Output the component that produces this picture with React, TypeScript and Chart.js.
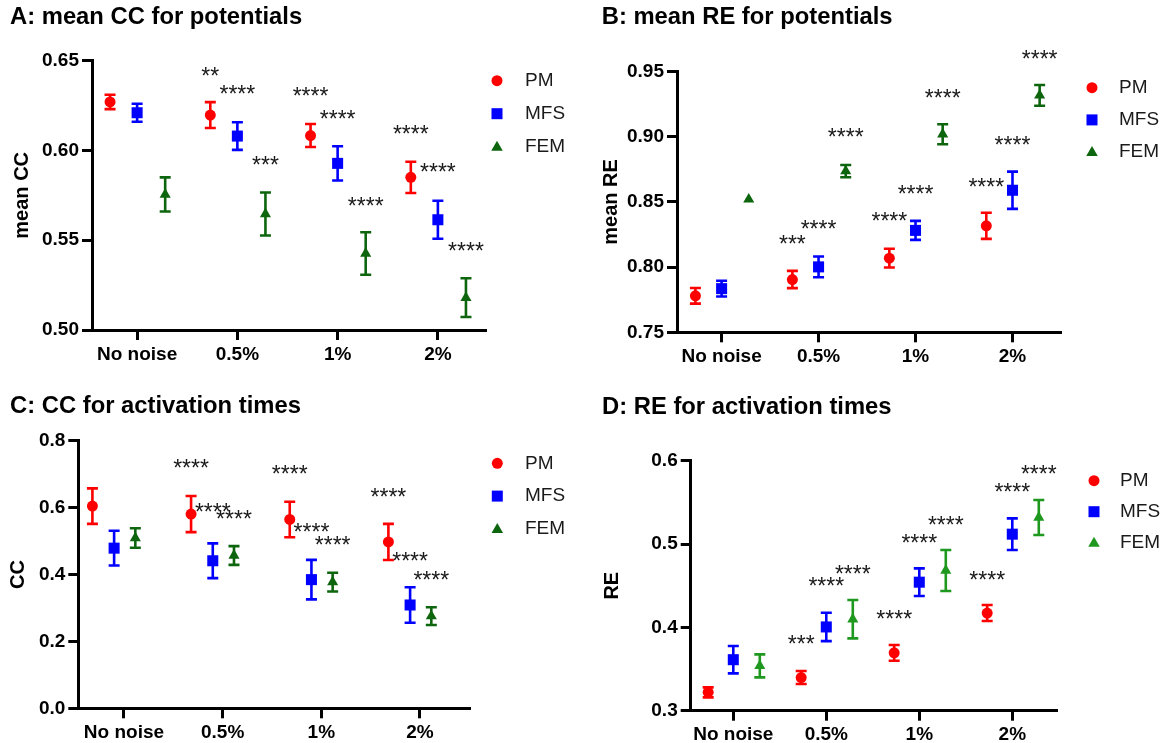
import React, { useEffect, useRef } from 'react';
import { Chart, registerables } from 'chart.js';

Chart.register(...registerables);

// ---------- data ----------
const CATEGORIES = ['No noise', '0.5%', '1%', '2%'];
const SERIES = ['PM', 'MFS', 'FEM'];
const X_TICKS = [0, 1, 2, 3];

// A: mean CC for potentials
const A_PM = [0.627, 0.6197, 0.6083, 0.585];
const A_PM_ERR = [0.004, 0.0072, 0.0064, 0.0087];
const A_MFS = [0.621, 0.608, 0.5928, 0.5614];
const A_MFS_ERR = [0.005, 0.0077, 0.0095, 0.0106];
const A_FEM = [0.5755, 0.5646, 0.5426, 0.518];
const A_FEM_ERR = [0.0095, 0.012, 0.0118, 0.0108];
const A_Y_TICKS = [0.5, 0.55, 0.6, 0.65];

// B: mean RE for potentials
const B_PM = [0.778, 0.7905, 0.8069, 0.8317];
const B_PM_ERR = [0.006, 0.0066, 0.0072, 0.01];
const B_MFS = [0.7835, 0.8002, 0.8282, 0.859];
const B_MFS_ERR = [0.006, 0.008, 0.0073, 0.0143];
const B_FEM = [0.852, 0.8737, 0.902, 0.9318];
const B_FEM_ERR = [0, 0.0047, 0.0077, 0.008];
const B_Y_TICKS = [0.75, 0.8, 0.85, 0.9, 0.95];

// C: CC for activation times
const C_PM = [0.6044, 0.5805, 0.5645, 0.4972];
const C_PM_ERR = [0.053, 0.054, 0.053, 0.054];
const C_MFS = [0.4787, 0.441, 0.3846, 0.3088];
const C_MFS_ERR = [0.052, 0.052, 0.059, 0.053];
const C_FEM = [0.509, 0.4568, 0.377, 0.2755];
const C_FEM_ERR = [0.029, 0.028, 0.028, 0.0265];
const C_Y_TICKS = [0, 0.2, 0.4, 0.6, 0.8];

// D: RE for activation times
const D_PM = [0.322, 0.3398, 0.3694, 0.4172];
const D_PM_ERR = [0.006, 0.0078, 0.0094, 0.0096];
const D_MFS = [0.3612, 0.4005, 0.4542, 0.5118];
const D_MFS_ERR = [0.0164, 0.017, 0.0166, 0.019];
const D_FEM = [0.3538, 0.4098, 0.4682, 0.5318];
const D_FEM_ERR = [0.0138, 0.023, 0.0246, 0.021];
const D_Y_TICKS = [0.3, 0.4, 0.5, 0.6];

// significance labels: [series index, category index, y value, text]
type Star = [number, number, number, string];
const A_STARS: Star[] = [
  [0, 1, 0.6435, '**'], [1, 1, 0.6331, '****'], [2, 1, 0.5936, '***'],
  [0, 2, 0.632, '****'], [1, 2, 0.6195, '****'], [2, 2, 0.5707, '****'],
  [0, 3, 0.6112, '****'], [1, 3, 0.5898, '****'], [2, 3, 0.5457, '****'],
];
const B_STARS: Star[] = [
  [0, 1, 0.8201, '***'], [1, 1, 0.8319, '****'], [2, 1, 0.9022, '****'],
  [0, 2, 0.8376, '****'], [1, 2, 0.8587, '****'], [2, 2, 0.9321, '****'],
  [0, 3, 0.8644, '****'], [1, 3, 0.8963, '****'], [2, 3, 0.962, '****'],
];
const C_STARS: Star[] = [
  [0, 1, 0.7274, '****'], [1, 1, 0.598, '****'], [2, 1, 0.575, '****'],
  [0, 2, 0.7094, '****'], [1, 2, 0.536, '****'], [2, 2, 0.498, '****'],
  [0, 3, 0.6428, '****'], [1, 3, 0.4514, '****'], [2, 3, 0.3934, '****'],
];
const D_STARS: Star[] = [
  [0, 1, 0.3836, '***'], [1, 1, 0.4535, '****'], [2, 1, 0.468, '****'],
  [0, 2, 0.4136, '****'], [1, 2, 0.5056, '****'], [2, 2, 0.5268, '****'],
  [0, 3, 0.4607, '****'], [1, 3, 0.5669, '****'], [2, 3, 0.5876, '****'],
];

// ---------- styles ----------
const FONT = "'Liberation Sans', Arial, Helvetica, sans-serif";
const RED = '#ff0000';
const BLUE = '#0000ff';
const DARK_GREEN = '#0d650d';
const GREEN = '#1f981f';
const STYLES = ['circle', 'rect', 'triangle'];
const RADII = [5.5, 7.8, 6.4];

type PanelCfg = {
  title: string; yTitle: string;
  left: number; top: number; w: number; h: number;
  padL: number; padR: number; tPadTop: number; tPadBottom: number;
  yAxisW: number; xAxisH: number; yTitleLH: number; yTitlePad: number;
  yMin: number; yMax: number; yTicks: number[]; decimals: number;
  xMin: number; xMax: number;
  dodge: number[]; colors: string[];
  values: number[][]; errors: number[][]; stars: Star[];
  legend: { mx: number; tx: number; y0: number; dy: number };
};

const PANELS: PanelCfg[] = [
  {
    title: 'A: mean CC for potentials', yTitle: 'mean CC',
    left: 0, top: 0, w: 585, h: 372,
    padL: 10, padR: 100, tPadTop: 3.4, tPadBottom: 28.7,
    yAxisW: 82, xAxisH: 42, yTitleLH: 1.2, yTitlePad: 0,
    yMin: 0.5, yMax: 0.65, yTicks: A_Y_TICKS, decimals: 2,
    xMin: -0.45, xMax: 3.47,
    dodge: [-0.27, 0, 0.28], colors: [RED, BLUE, DARK_GREEN],
    values: [A_PM, A_MFS, A_FEM], errors: [A_PM_ERR, A_MFS_ERR, A_FEM_ERR], stars: A_STARS,
    legend: { mx: 497, tx: 525, y0: 80.7, dy: 33 },
  },
  {
    title: 'B: mean RE for potentials', yTitle: 'mean RE',
    left: 585, top: 0, w: 585, h: 372,
    padL: 16.7, padR: 110, tPadTop: 3.4, tPadBottom: 39.7,
    yAxisW: 75.3, xAxisH: 39.7, yTitleLH: 1.0, yTitlePad: 0,
    yMin: 0.75, yMax: 0.95, yTicks: B_Y_TICKS, decimals: 2,
    xMin: -0.46, xMax: 3.49,
    dodge: [-0.27, 0, 0.28], colors: [RED, BLUE, DARK_GREEN],
    values: [B_PM, B_MFS, B_FEM], errors: [B_PM_ERR, B_MFS_ERR, B_FEM_ERR], stars: B_STARS,
    legend: { mx: 507, tx: 534, y0: 87.7, dy: 32.2 },
  },
  {
    title: 'C: CC for activation times', yTitle: 'CC',
    left: 0, top: 372, w: 585, h: 371,
    padL: 10, padR: 115.7, tPadTop: 19.9, tPadBottom: 20.2,
    yAxisW: 68.3, xAxisH: 34.7, yTitleLH: 0.83, yTitlePad: 0,
    yMin: 0, yMax: 0.8, yTicks: C_Y_TICKS, decimals: 1,
    xMin: -0.463, xMax: 3.5,
    dodge: [-0.32, -0.1, 0.115], colors: [RED, BLUE, DARK_GREEN],
    values: [C_PM, C_MFS, C_FEM], errors: [C_PM_ERR, C_MFS_ERR, C_FEM_ERR], stars: C_STARS,
    legend: { mx: 497.3, tx: 525, y0: 91.3, dy: 32.8 },
  },
  {
    title: 'D: RE for activation times', yTitle: 'RE',
    left: 585, top: 372, w: 585, h: 371,
    padL: 17, padR: 114, tPadTop: 21.4, tPadBottom: 38.7,
    yAxisW: 88.7, xAxisH: 32.3, yTitleLH: 1.0, yTitlePad: 0.7,
    yMin: 0.3, yMax: 0.6, yTicks: D_Y_TICKS, decimals: 1,
    xMin: -0.458, xMax: 3.47,
    dodge: [-0.27, 0, 0.285], colors: [RED, BLUE, GREEN],
    values: [D_PM, D_MFS, D_FEM], errors: [D_PM_ERR, D_MFS_ERR, D_FEM_ERR], stars: D_STARS,
    legend: { mx: 509, tx: 535, y0: 108.7, dy: 31 },
  },
];

// ---------- plugins ----------
const errorBarPlugin = {
  id: 'errorBars',
  beforeDatasetsDraw(chart: any) {
    const ctx = chart.ctx;
    const xS = chart.scales.x;
    const yS = chart.scales.y;
    chart.data.datasets.forEach((ds: any) => {
      const errs: number[] = ds.errors;
      if (!errs) return;
      ctx.save();
      ctx.strokeStyle = ds.barColor;
      ctx.lineWidth = 2.6;
      ds.data.forEach((p: any, j: number) => {
        if (!(errs[j] > 0)) return;
        const x = xS.getPixelForValue(p.x);
        const yT = yS.getPixelForValue(p.y + errs[j]);
        const yB = yS.getPixelForValue(p.y - errs[j]);
        ctx.beginPath();
        ctx.moveTo(x, yT); ctx.lineTo(x, yB);
        ctx.moveTo(x - 5.5, yT); ctx.lineTo(x + 5.5, yT);
        ctx.moveTo(x - 5.5, yB); ctx.lineTo(x + 5.5, yB);
        ctx.stroke();
      });
      ctx.restore();
    });
  },
};

function makeStarsPlugin(stars: Star[], dodge: number[]) {
  return {
    id: 'stars',
    afterDatasetsDraw(chart: any) {
      const ctx = chart.ctx;
      const xS = chart.scales.x;
      const yS = chart.scales.y;
      ctx.save();
      ctx.fillStyle = '#1a1a1a';
      ctx.font = `23px ${FONT}`;
      ctx.textAlign = 'center';
      ctx.textBaseline = 'middle';
      stars.forEach(([s, c, v, t]) => {
        const x = xS.getPixelForValue(c + dodge[s]);
        const y = yS.getPixelForValue(v) + 5;
        ctx.fillText(t, x, y);
      });
      ctx.restore();
    },
  };
}

function drawMarker(ctx: CanvasRenderingContext2D, style: string, x: number, y: number, color: string) {
  ctx.fillStyle = color;
  ctx.beginPath();
  if (style === 'circle') {
    ctx.arc(x, y, 5.5, 0, Math.PI * 2);
  } else if (style === 'rect') {
    ctx.rect(x - 5.5, y - 5.5, 11, 11);
  } else {
    const w = 11.5;
    const h = w * 0.866;
    ctx.moveTo(x, y - h * 0.6);
    ctx.lineTo(x + w / 2, y + h * 0.4);
    ctx.lineTo(x - w / 2, y + h * 0.4);
    ctx.closePath();
  }
  ctx.fill();
}

function makeLegendPlugin(lg: PanelCfg['legend']) {
  return {
    id: 'sideLegend',
    afterDraw(chart: any) {
      const ctx = chart.ctx;
      ctx.save();
      chart.data.datasets.forEach((ds: any, i: number) => {
        const y = lg.y0 + i * lg.dy;
        drawMarker(ctx, ds.pointStyle, lg.mx, y, ds.barColor);
        ctx.fillStyle = '#1a1a1a';
        ctx.font = `19px ${FONT}`;
        ctx.textAlign = 'left';
        ctx.textBaseline = 'middle';
        ctx.fillText(ds.label, lg.tx, y);
      });
      ctx.restore();
    },
  };
}

// ---------- components ----------
function Panel({ cfg }: { cfg: PanelCfg }) {
  const ref = useRef<HTMLCanvasElement | null>(null);

  useEffect(() => {
    if (!ref.current) return;
    const datasets = SERIES.map((name, i) => ({
      label: name,
      data: CATEGORIES.map((_, j) => ({ x: j + cfg.dodge[i], y: cfg.values[i][j] })),
      errors: cfg.errors[i],
      barColor: cfg.colors[i],
      pointStyle: STYLES[i],
      pointRadius: RADII[i],
      pointHoverRadius: RADII[i],
      pointBorderWidth: 0,
      backgroundColor: cfg.colors[i],
      borderColor: cfg.colors[i],
      showLine: false,
      clip: false as any,
    }));

    const tickFont = { family: FONT, size: 19, weight: 'bold' as const };
    const chart = new Chart(ref.current, {
      type: 'scatter',
      data: { datasets: datasets as any },
      options: {
        responsive: false,
        animation: false,
        events: [],
        layout: { padding: { left: cfg.padL, right: cfg.padR, top: 0, bottom: 0 } },
        plugins: {
          legend: { display: false },
          tooltip: { enabled: false },
          title: {
            display: true,
            text: cfg.title,
            align: 'start',
            color: '#000',
            font: { family: FONT, size: 23.8, weight: 'bold', lineHeight: 1.2 },
            padding: { top: cfg.tPadTop, bottom: cfg.tPadBottom },
          },
        },
        scales: {
          x: {
            type: 'linear',
            position: 'bottom',
            min: cfg.xMin,
            max: cfg.xMax,
            afterBuildTicks: (s: any) => { s.ticks = X_TICKS.map((v) => ({ value: v })); },
            afterFit: (s: any) => { s.height = cfg.xAxisH; },
            ticks: {
              autoSkip: false,
              maxRotation: 0,
              minRotation: 0,
              padding: 3,
              color: '#000',
              font: tickFont,
              callback: (v: any) => CATEGORIES[Number(v)] ?? '',
            },
            grid: { drawOnChartArea: false, drawTicks: true, tickLength: 10, lineWidth: 3, color: '#000' },
            border: { display: true, width: 3, color: '#000' },
          },
          y: {
            type: 'linear',
            position: 'left',
            min: cfg.yMin,
            max: cfg.yMax,
            afterBuildTicks: (s: any) => { s.ticks = cfg.yTicks.map((v) => ({ value: v })); },
            afterFit: (s: any) => { s.width = cfg.yAxisW; },
            ticks: {
              padding: 3,
              color: '#000',
              font: tickFont,
              callback: (v: any) => Number(v).toFixed(cfg.decimals),
            },
            grid: { drawOnChartArea: false, drawTicks: true, tickLength: 10, lineWidth: 3, color: '#000' },
            border: { display: true, width: 3, color: '#000' },
            title: {
              display: true,
              text: cfg.yTitle,
              color: '#000',
              font: { family: FONT, size: 20, weight: 'bold', lineHeight: cfg.yTitleLH },
              padding: { top: cfg.yTitlePad, bottom: 0 },
            },
          },
        },
      } as any,
      plugins: [errorBarPlugin, makeStarsPlugin(cfg.stars, cfg.dodge), makeLegendPlugin(cfg.legend)],
    });
    return () => chart.destroy();
  }, [cfg]);

  return (
    <canvas
      ref={ref}
      width={cfg.w}
      height={cfg.h}
      style={{ position: 'absolute', left: cfg.left, top: cfg.top, width: cfg.w, height: cfg.h }}
    />
  );
}

export default function App() {
  return (
    <div style={{ position: 'fixed', left: 0, top: 0, width: 1170, height: 743, background: '#fff', overflow: 'hidden' }}>
      {PANELS.map((p) => (
        <Panel key={p.title} cfg={p} />
      ))}
    </div>
  );
}
